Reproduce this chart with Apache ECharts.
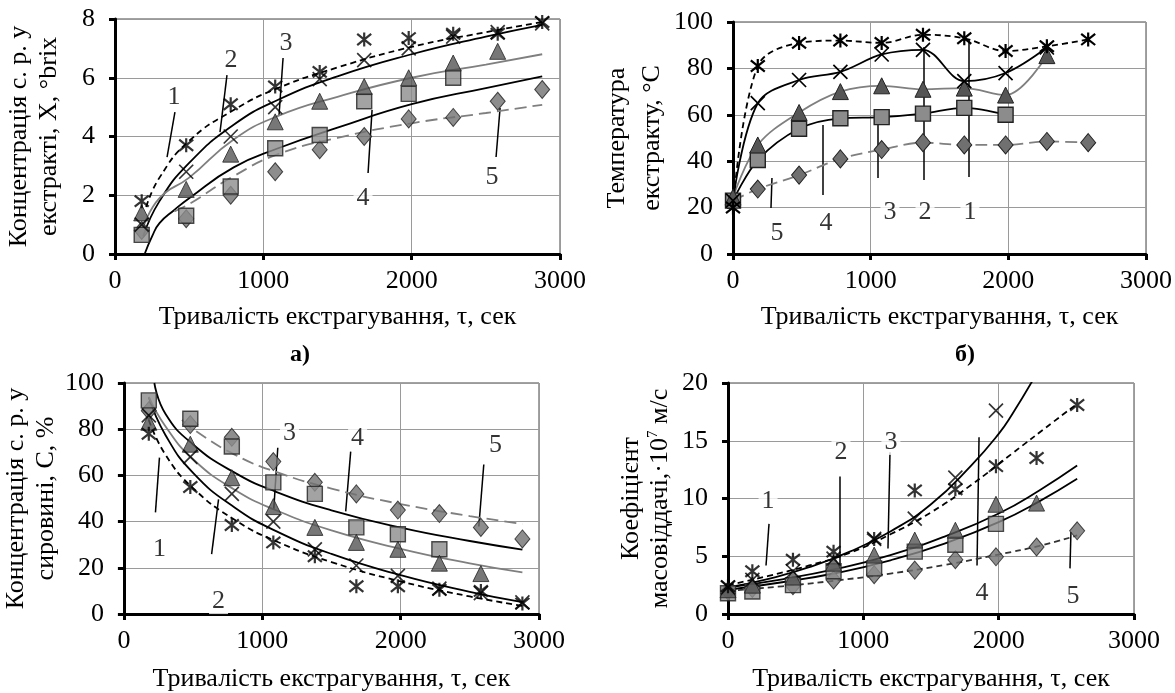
<!DOCTYPE html>
<html><head><meta charset="utf-8">
<script src="https://cdn.jsdelivr.net/npm/echarts@6/dist/echarts.min.js"></script>
<style>html,body{margin:0;padding:0;background:#fff}#c{width:1175px;height:693px}</style>
</head><body><div id="c"></div>
<script>
// ---------- data ----------
// time points, s
const tA = [180,480,780,1080,1380,1680,1980,2280,2580,2880];
const tB = [0,180,480,780,1080,1380,1680,1980,2280,2580];
// a) concentration in extract, °brix
const a1 = [1.8,3.7,5.1,5.7,6.2,7.3,7.35,7.5,7.5,7.9];
const a2 = [1.0,2.8,4.0,5.0,5.95,6.6,7.0,7.4,7.55,7.85];
const a3 = [1.4,2.2,3.4,4.5,5.2,5.7,6.0,6.5,6.9];
const a4 = [0.65,1.3,2.3,3.6,4.05,5.2,5.45,6.0];
const a5 = [0.8,1.2,2.0,2.8,3.55,4.0,4.6,4.65,5.2,5.6];
// a) trend curves
const fitAx1 = [210,300,500,800,1100,1500,2000,2500,2880];
const fitA1 = [1.6,2.6,3.85,4.9,5.65,6.35,7.05,7.55,7.9];
const fitAx2 = [190,300,500,800,1100,1500,2000,2500,2880];
const fitA2 = [0.6,1.8,3.1,4.4,5.25,6.05,6.8,7.4,7.8];
const fitA3 = [0.9,1.9,2.6,3.9,4.7,5.35,6.0,6.45,6.8];
const fitAx4 = [200,250,300,400,500,800,1100,1500,2000,2500,2880];
const fitA4 = [0,0.6,1.05,1.5,1.9,2.95,3.6,4.3,5.1,5.65,6.05];
const fitAx5 = [400,500,800,1100,1500,2000,2500,2880];
const fitA5 = [1.45,1.7,2.65,3.4,3.95,4.45,4.8,5.08];
// b) extract temperature, °C
const b1 = [20,81,91,92,91,94.5,93,87.5,89.5,92.5];
const b2 = [23,65,75,78.5,86,88,74.5,78,89];
const b3 = [24.5,47,61,70,72.5,71,71.5,68.5,85.5];
const b4 = [23,40.5,54,58.5,59,60.5,63,60];
const b5 = [23,28,34,41,45,48,47,47,48.5,48];
// c) concentration in raw material, %
const c1 = [78,55,38.5,31,25,12,12,10.5,10,4.5];
const c2 = [86,68,52,40,28,21,16.5,11,9,5];
const c3 = [83,73.5,59,46.5,37.5,31,28,22,17.5];
const c4 = [92.5,84.5,72.5,57,52,37.5,34.5,28];
const c5 = [88,82,76.5,66,57,52,45,43.5,37.5,32.5];
// c) trend curves
const fitCx = [180,300,500,800,1100,1500,2000,2500,2880];
const fitC1 = [84,69,54.5,40.8,31.5,22.5,14.1,7.6,3.5];
const fitC2 = [93.8,77.5,61.1,46.1,35.9,26,16.8,9.6,5.1];
const fitC3 = [94,81.3,67,53.8,44.9,36.2,28.2,21.9,18];
const fitCx4 = [220,300,500,800,1100,1500,2000,2500,2880];
const fitC4 = [100,86.7,73.4,61.2,52.9,44.9,37.4,31.6,27.9];
const fitCx5 = [420,500,800,1100,1500,2000,2500,2880];
const fitC5 = [84,80,69,61.5,54.3,47.6,42.4,39];
// d) mass-transfer coefficient, ·10^7 m/s
const d1 = [2.4,3.7,4.7,5.4,6.5,10.7,10.8,12.8,13.5,18.1];
const d2 = [2.3,2.95,3.7,4.8,6.5,8.25,11.8,17.6];
const d3 = [2.1,2.5,3.2,4.4,5.1,6.4,7.25,9.5,9.6];
const d4 = [1.8,1.95,2.5,3.7,3.95,5.4,6.0,7.8];
const d5 = [2.0,2.2,2.45,2.95,3.4,3.8,4.7,4.95,5.8,7.2];
// d) trend curves
const fitDx1 = [0,300,600,900,1200,1500,1800,2100,2400,2580];
const fitD1 = [2.5,3.3,4.2,5.3,6.9,8.8,11.2,13.9,16.6,18.2];
const fitDx2 = [0,300,600,900,1200,1500,1800,2000,2100,2250];
const fitD2 = [2.3,3.05,4.05,5.4,7.15,9.5,12.9,15.6,17.3,20.2];
const fitDx = [0,400,800,1200,1600,2000,2300,2580];
const fitD3 = [2.3,3.0,3.9,5.1,6.7,8.7,10.7,12.85];
const fitD4 = [2.1,2.75,3.55,4.65,6.1,7.95,9.75,11.7];
const fitD5 = [2.0,2.4,2.9,3.5,4.25,5.15,5.9,6.8];
// tick settings
const yMax = [8,100,100,20];
const yStep = [2,20,20,5];
const xMax = 3000, xStep = 1000;
const curveNames = ['1','2','3','4','5'];

// ---------- annotation placement (data units) ----------
const labelsA = [[398,5.34],[782,6.6],[1153,7.18],[1672,1.91],[2542,2.62]];
const leadA = [[[404,4.83],[351,3.3]],[[755,6.09],[708,4.15]],[[1133,6.67],[1106,4.73]],[[1706,2.76],[1733,4.9]],[[2569,3.3],[2596,4.97]]];
const labelsB = [[1721,18.1],[1395,18.1],[1140,18.1],[676,13.4],[320,9.1]];
const leadB = [[[1714,92.2],[1714,33.2]],[[1387,89.2],[1387,31.9]],[[1053,59.9],[1053,32.8]],[[654,55.6],[654,25.4]],[[283,32.8],[276,19.8]]];
const labelsC = [[257,28],[684,5.6],[1197,78.4],[1689,76.3],[2686,73.3]];
const leadC = [[[228,44],[257,67.7]],[[634,25.9],[684,49.6]],[[1083,45.3],[1112,72]],[[1603,44.4],[1639,70.3]],[[2565,37.9],[2601,64.7]]];
const labelsD = [[296,9.8],[835,14.0],[1204,14.9],[1877,1.8],[2549,1.55]];
const leadD = [[[303,7.8],[281,4.2]],[[828,11.9],[828,3.95]],[[1197,14.0],[1182,5.67]],[[1855,15.3],[1840,4.2]],[[2534,7.1],[2527,3.95]]];

// ---------- styling ----------
const FONT = 'Liberation Serif';
const FS = 26;
const GRAY = '#7f7f7f';
const MK = {
  star: {symbol:'path://M5,0L5,10M1,1L9,9M1,9L9,1', symbolSize:14, itemStyle:{color:'rgba(0,0,0,0)', borderColor:'#000', borderWidth:2.2}},
  cross:{symbol:'path://M0,0L10,10M0,10L10,0', symbolSize:14, itemStyle:{color:'rgba(0,0,0,0)', borderColor:'#000', borderWidth:1.7}},
  tri:  {symbol:'triangle', symbolSize:16, itemStyle:{color:'#555', borderColor:'#222', borderWidth:1}},
  sq:   {symbol:'rect', symbolSize:15, itemStyle:{color:'#8c8c8c', borderColor:'#222', borderWidth:1.4}},
  dia:  {symbol:'diamond', symbolSize:[15,18], itemStyle:{color:'#707070', borderColor:'#222', borderWidth:1}}
};
const pairs = (xs, ys) => ys.map((v,i)=>[xs[i], v]);

function scat(gi, xs, ys, mk){
  return Object.assign({type:'scatter', xAxisIndex:gi, yAxisIndex:gi, data:pairs(xs,ys), z:4, silent:true}, JSON.parse(JSON.stringify(MK[mk])));
}
function fit(gi, xs, ys, color, dash){
  return {type:'line', xAxisIndex:gi, yAxisIndex:gi, data:pairs(xs,ys), smooth:true, showSymbol:false, symbol:'none', z:3, silent:true, clip:true,
    lineStyle:{color:color, width:1.8, type: dash || 'solid'}};
}
function conn(gi, xs, ys, mk, color, dash){
  const m = JSON.parse(JSON.stringify(MK[mk]));
  return {type:'line', xAxisIndex:gi, yAxisIndex:gi, data:pairs(xs,ys), smooth:0.35, z:4, silent:true,
    symbol:m.symbol, symbolSize:m.symbolSize, itemStyle:m.itemStyle, showSymbol:true,
    lineStyle:{color:color, width:1.8, type: dash || 'solid'}};
}
function notes(gi, pos, leads){
  return [
    {type:'lines', coordinateSystem:'cartesian2d', xAxisIndex:gi, yAxisIndex:gi, z:2, silent:true,
      lineStyle:{color:'#000', width:1.5, opacity:1},
      data: leads.map(c=>({coords:c}))},
    {type:'scatter', xAxisIndex:gi, yAxisIndex:gi, symbolSize:0, z:2, silent:true,
      data: pos.map((p,i)=>({value:p, name:curveNames[i]})),
      label:{show:true, position:'inside', formatter:'{b}', fontFamily:FONT, fontSize:FS, color:'#000', backgroundColor:'#fff', padding:[0,3]}}
  ];
}
const DASH1 = [6,4], DASH5 = [12,6];

const yNames = [
  'Концентрація с. р. у\nекстракті, X, °brix',
  'Температура\nекстракту, °С',
  'Концентрація с. р. у\nсировині, С, %',
  'Коефіцієнт\nмасовіддачі,·10{sup|7} м/с'
];
const yGaps = [51,60,54,53];
const yLH = [30,35,30,29];
const xGaps = [50,50,52,52];
const xTitle = 'Тривалість екстрагування, τ, сек';

const grids = [
  {left:115, top:19, width:445, height:235},
  {left:733, top:22, width:413, height:232},
  {left:118, top:383, width:421, height:232},
  {left:728, top:383, width:406, height:233}
];
const xAxes = grids.map((g,i)=>({
  type:'value', gridIndex:i, min:0, max:xMax, interval:xStep,
  axisLine:{show:true, onZero:false, lineStyle:{color:'#000', width:3}},
  axisTick:{show:true, length:6, lineStyle:{color:'#000', width:3}},
  axisLabel:{fontFamily:FONT, fontSize:FS, color:'#000', margin:14, formatter:v=>String(v)},
  splitLine:{show:true, lineStyle:{color:'#9a9a9a', width:1}},
  name:xTitle, nameLocation:'middle', nameGap:xGaps[i],
  nameTextStyle:{fontFamily:FONT, fontSize:FS, color:'#000'}
}));
const yAxes = grids.map((g,i)=>({
  type:'value', gridIndex:i, min:0, max:yMax[i], interval:yStep[i],
  axisLine:{show:true, onZero:false, lineStyle:{color:'#000', width:3}},
  axisTick:{show:true, length:6, lineStyle:{color:'#000', width:3}},
  axisLabel:{fontFamily:FONT, fontSize:FS, color:'#000', margin:20, formatter:v=>String(v)},
  splitLine:{show:true, lineStyle:{color:'#9a9a9a', width:1}},
  name:yNames[i], nameLocation:'middle', nameGap:yGaps[i], nameRotate:90,
  nameTextStyle:{fontFamily:FONT, fontSize:FS, color:'#000', lineHeight:yLH[i],
    rich:{sup:{fontFamily:FONT, fontSize:15, verticalAlign:'top', color:'#000', padding:[0,0,10,0]}}}
}));

const series = [
  // a)
  fit(0, fitAx1, fitA1, '#000', DASH1),
  fit(0, fitAx2, fitA2, '#000'),
  fit(0, fitAx2, fitA3, GRAY),
  fit(0, fitAx4, fitA4, '#000'),
  fit(0, fitAx5, fitA5, GRAY, DASH5),
  scat(0, tA, a5, 'dia'), scat(0, tA, a4, 'sq'), scat(0, tA, a3, 'tri'), scat(0, tA, a2, 'cross'), scat(0, tA, a1, 'star'),
  ...notes(0, labelsA, leadA),
  // b)
  conn(1, tB, b5, 'dia', GRAY, DASH5),
  conn(1, tB, b4, 'sq', '#000'),
  conn(1, tB, b3, 'tri', GRAY),
  conn(1, tB, b2, 'cross', '#000'),
  conn(1, tB, b1, 'star', '#000', DASH1),
  ...notes(1, labelsB, leadB),
  // c)
  fit(2, fitCx, fitC1, '#000', DASH1),
  fit(2, fitCx, fitC2, '#000'),
  fit(2, fitCx, fitC3, GRAY),
  fit(2, fitCx4, fitC4, '#000'),
  fit(2, fitCx5, fitC5, GRAY, DASH5),
  scat(2, tA, c5, 'dia'), scat(2, tA, c4, 'sq'), scat(2, tA, c3, 'tri'), scat(2, tA, c2, 'cross'), scat(2, tA, c1, 'star'),
  ...notes(2, labelsC, leadC),
  // d)
  fit(3, fitDx1, fitD1, '#000', DASH1),
  fit(3, fitDx2, fitD2, '#000'),
  fit(3, fitDx, fitD3, '#000'),
  fit(3, fitDx, fitD4, '#000'),
  fit(3, fitDx, fitD5, '#333', DASH1),
  scat(3, tB, d5, 'dia'), scat(3, tB, d4, 'sq'), scat(3, tB, d3, 'tri'), scat(3, tB, d2, 'cross'), scat(3, tB, d1, 'star'),
  ...notes(3, labelsD, leadD)
];

const chart = echarts.init(document.getElementById('c'), null, {renderer:'canvas'});
chart.setOption({
  animation:false,
  backgroundColor:'#fff',
  grid: grids.map(g=>Object.assign({show:true, borderColor:'#444', borderWidth:1, backgroundColor:'transparent'}, g)),
  xAxis: xAxes,
  yAxis: yAxes,
  series: series,
  graphic: [
    {type:'text', x:300, y:355, style:{text:'а)', font:'bold 24px "Liberation Serif"', fill:'#000', align:'center', verticalAlign:'middle'}},
    {type:'text', x:965, y:355, style:{text:'б)', font:'bold 24px "Liberation Serif"', fill:'#000', align:'center', verticalAlign:'middle'}}
  ]
});
</script>
</body></html>
